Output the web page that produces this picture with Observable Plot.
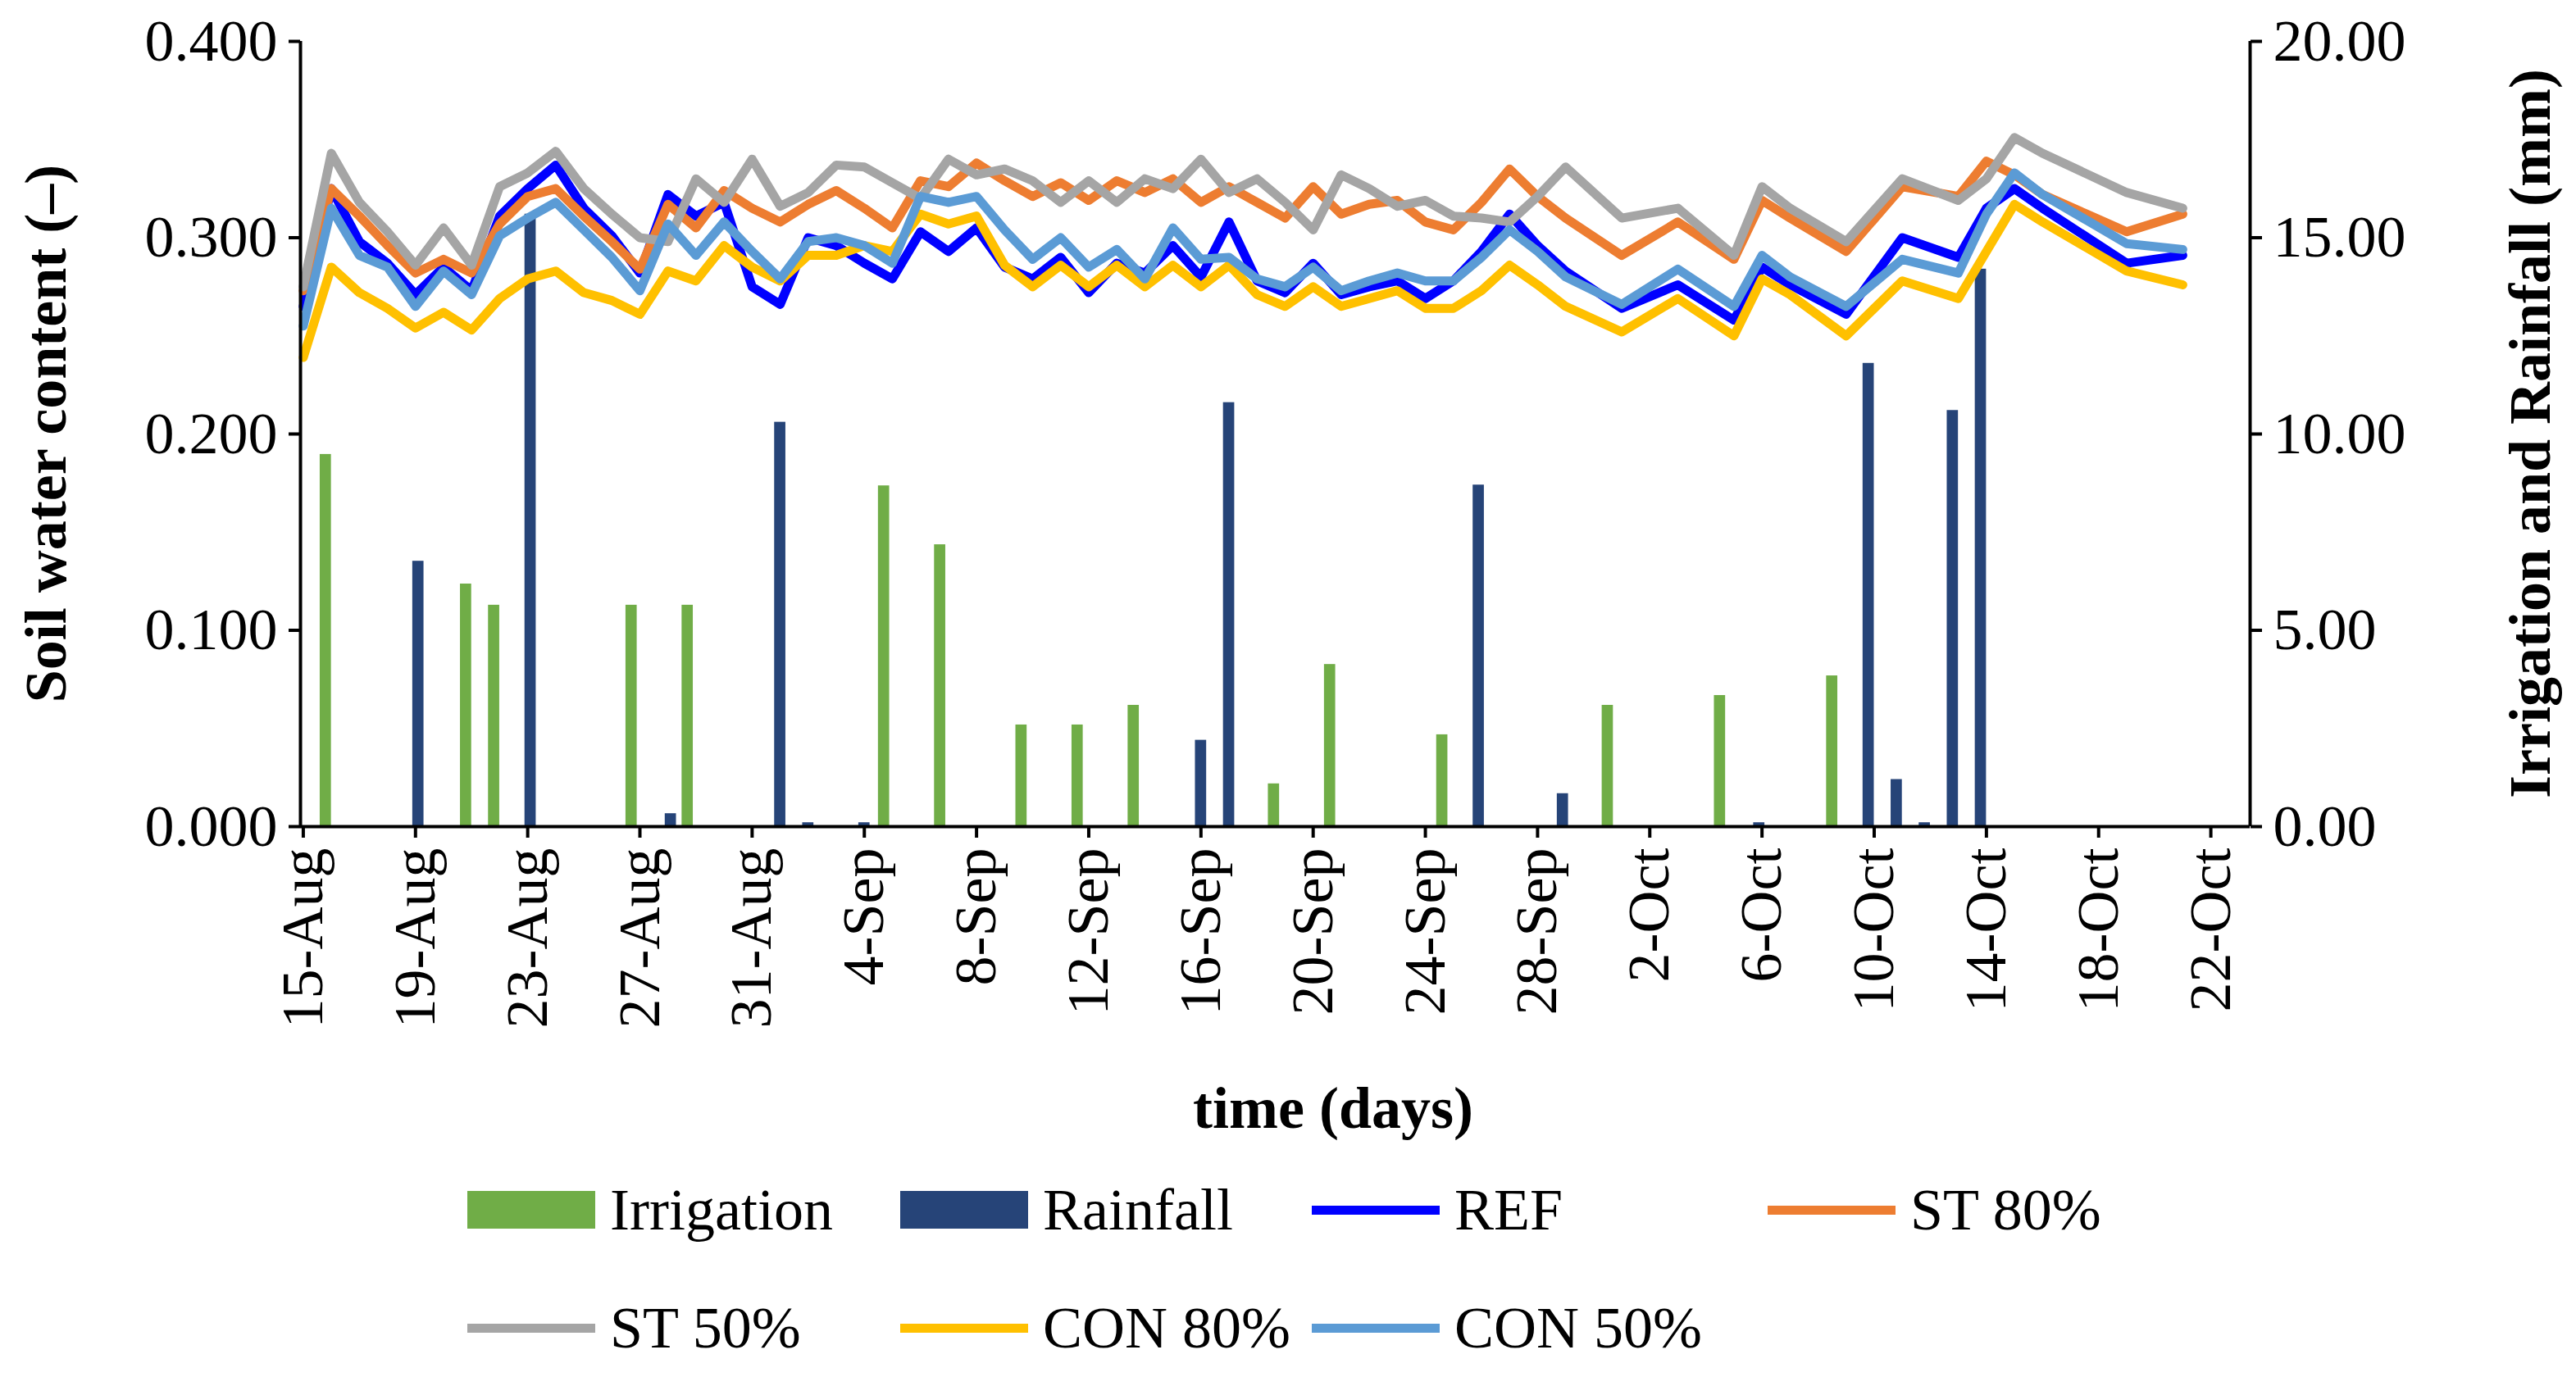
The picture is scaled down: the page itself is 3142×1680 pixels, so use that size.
<!DOCTYPE html>
<html><head><meta charset="utf-8">
<script src="https://cdn.jsdelivr.net/npm/d3@7"></script>
<script src="https://cdn.jsdelivr.net/npm/@observablehq/plot@0.6"></script>
<style>
body{margin:0;background:#fff;font-family:"Liberation Serif",serif;}
#wrap{position:relative;width:3142px;height:1680px;}
.t{position:absolute;font-size:72px;color:#000;white-space:nowrap;}
.b{font-weight:bold;}
.sw{position:absolute;}
</style></head><body><div id="wrap"></div>
<script>
const tickLabels=["15-Aug","19-Aug","23-Aug","27-Aug","31-Aug","4-Sep","8-Sep","12-Sep","16-Sep","20-Sep","24-Sep","28-Sep","2-Oct","6-Oct","10-Oct","14-Oct","18-Oct","22-Oct"];
const lineDays=[...d3.range(0,46),47,49,51,52,53,55,57,59,60,61,62,65,67];
const REF=[0.265,0.325,0.298,0.287,0.271,0.285,0.273,0.311,0.325,0.337,0.315,0.301,0.282,0.322,0.311,0.318,0.275,0.266,0.300,0.296,0.287,0.279,0.303,
0.293,0.305,0.285,0.279,0.290,0.272,0.287,0.282,0.296,0.280,0.308,0.278,0.272,0.287,0.271,0.275,0.278,0.269,0.278,0.293,0.312,0.296,0.283,
0.264,0.276,0.258,0.285,0.276,0.261,0.300,0.290,0.315,0.325,0.315,0.287,0.291];
const ST80=[0.273,0.325,0.311,0.296,0.282,0.289,0.282,0.307,0.321,0.325,0.311,0.298,0.284,0.317,0.305,0.324,0.315,0.308,0.317,0.324,0.315,0.305,0.329,
0.326,0.338,0.329,0.321,0.328,0.319,0.329,0.323,0.330,0.318,0.326,0.318,0.310,0.326,0.312,0.317,0.319,0.308,0.304,0.318,0.335,0.321,0.310,
0.291,0.308,0.289,0.319,0.310,0.293,0.326,0.321,0.339,0.332,0.322,0.303,0.312];
const ST50=[0.275,0.343,0.318,0.303,0.286,0.305,0.286,0.326,0.333,0.344,0.325,0.312,0.300,0.298,0.330,0.318,0.340,0.316,0.323,0.337,0.336,0.328,0.320,
0.340,0.332,0.335,0.329,0.318,0.329,0.318,0.330,0.325,0.340,0.323,0.330,0.318,0.304,0.332,0.325,0.316,0.319,0.311,0.310,0.308,0.321,0.336,
0.310,0.315,0.291,0.326,0.315,0.298,0.330,0.319,0.330,0.351,0.343,0.323,0.315];
const CON80=[0.239,0.285,0.272,0.264,0.254,0.262,0.253,0.269,0.279,0.283,0.272,0.268,0.261,0.283,0.278,0.296,0.285,0.278,0.291,0.291,0.296,0.293,0.312,
0.307,0.311,0.286,0.275,0.286,0.275,0.286,0.275,0.286,0.275,0.286,0.271,0.265,0.275,0.265,0.269,0.273,0.264,0.264,0.273,0.286,0.276,0.265,
0.252,0.269,0.250,0.279,0.271,0.250,0.278,0.269,0.293,0.317,0.308,0.283,0.276];
const CON50=[0.255,0.315,0.291,0.285,0.265,0.283,0.271,0.301,0.310,0.318,0.304,0.290,0.273,0.307,0.291,0.308,0.293,0.279,0.298,0.300,0.296,0.287,0.321,
0.318,0.321,0.304,0.289,0.300,0.285,0.294,0.279,0.305,0.289,0.290,0.279,0.275,0.285,0.273,0.278,0.282,0.278,0.278,0.290,0.304,0.293,0.280,
0.266,0.284,0.265,0.291,0.280,0.265,0.289,0.282,0.312,0.333,0.322,0.297,0.294];
const irrDays=[0.8,5.8,6.8,11.7,13.7,20.7,22.7,25.6,27.6,29.6,34.6,36.6,40.6,46.5,50.5,54.5];
const irrMM=[9.48,6.18,5.64,5.64,5.64,8.68,7.18,2.59,2.59,3.09,1.09,4.13,2.34,3.09,3.34,3.84];
const rainDays=[4.1,8.1,13.1,17.0,18.0,20.0,32.0,33.0,41.9,44.9,51.9,55.8,56.8,57.8,58.8,59.8];
const rainMM=[6.76,15.6,0.33,10.3,0.1,0.1,2.2,10.8,8.7,0.84,0.1,11.8,1.2,0.1,10.6,14.2];
const seriesNames=["REF","ST 80%","ST 50%","CON 80%","CON 50%"];
const seriesVals=[REF,ST80,ST50,CON80,CON50];
const seriesColors=["#0000FF","#ED7D31","#A5A5A5","#FFC000","#5B9BD5"];

const K=0.02; // mm -> soil scale (20 mm = 0.4)
const lines=[];
seriesNames.forEach((n,i)=>lineDays.forEach((d,j)=>lines.push({s:n,d,v:seriesVals[i][j]})));
const bars=[...irrDays.map((d,i)=>({d,mm:irrMM[i],c:"#70AD47"})),...rainDays.map((d,i)=>({d,mm:rainMM[i],c:"#264478"}))];
const xd=[-0.1,69.4];
const font={fontFamily:"Liberation Serif, serif",fontSize:"72px",color:"#000",background:"transparent"};
const chart=Plot.plot({
  width:3142,height:1420,marginLeft:366,marginRight:398,marginTop:50,marginBottom:412,
  style:font,
  x:{domain:xd,type:"linear"},
  y:{domain:[0,0.4]},
  color:{domain:seriesNames,range:seriesColors},
  marks:[
    Plot.rectY(bars,{x1:d=>d.d-0.2,x2:d=>d.d+0.2,y1:0,y2:d=>d.mm*K,fill:d=>d.c}),
    Plot.line(lines,{x:"d",y:"v",z:"s",stroke:"s",strokeWidth:11,strokeLinejoin:"round",strokeLinecap:"round"}),
    Plot.ruleY([0],{stroke:"#000",strokeWidth:4}),
    Plot.ruleX([xd[0],xd[1]],{y1:0,y2:0.4,stroke:"#000",strokeWidth:4}),
    Plot.axisY({anchor:"left",ticks:d3.range(0,0.41,0.1),tickFormat:d3.format(".3f"),tickSize:14,tickPadding:14,label:null,strokeWidth:4}),
    Plot.axisY({anchor:"right",ticks:d3.range(0,21,5).map(m=>m*K),tickFormat:v=>(v/K).toFixed(2),tickSize:14,tickPadding:14,label:null,strokeWidth:4}),
    Plot.axisX({ticks:d3.range(0,69,4),tickFormat:v=>tickLabels[Math.round(v/4)],tickRotate:-90,tickSize:14,tickPadding:12,label:null,strokeWidth:4})
  ]
});
const wrap=document.getElementById("wrap");
wrap.appendChild(chart);
function addText(txt,x,y,cls,extra){const e=document.createElement("div");e.className="t "+(cls||"");e.textContent=txt;e.style.left=x+"px";e.style.top=y+"px";if(extra)Object.assign(e.style,extra);wrap.appendChild(e);return e;}
addText("Soil water content (–)",56,529,"b",{transform:"translate(-50%,-50%) rotate(-90deg)"});
addText("Irrigation and Rainfall (mm)",3086,529,"b",{transform:"translate(-50%,-50%) rotate(-90deg)"});
addText("time (days)",1626,1352,"b",{transform:"translate(-50%,-50%)"});
const legend=[
 {n:"Irrigation",c:"#70AD47",bar:true,x:570,y:1476},
 {n:"Rainfall",c:"#264478",bar:true,x:1098,y:1476},
 {n:"REF",c:seriesColors[0],x:1600,y:1476},
 {n:"ST 80%",c:seriesColors[1],x:2156,y:1476},
 {n:"ST 50%",c:seriesColors[2],x:570,y:1620},
 {n:"CON 80%",c:seriesColors[3],x:1098,y:1620},
 {n:"CON 50%",c:seriesColors[4],x:1600,y:1620}
];
legend.forEach(l=>{
  const s=document.createElement("div");s.className="sw";
  const h=l.bar?46:11;
  Object.assign(s.style,{left:l.x+"px",top:(l.y-h/2)+"px",width:"156px",height:h+"px",background:l.c});
  wrap.appendChild(s);
  addText(l.n,l.x+174,l.y,"",{transform:"translateY(-50%)"});
});
</script></body></html>
